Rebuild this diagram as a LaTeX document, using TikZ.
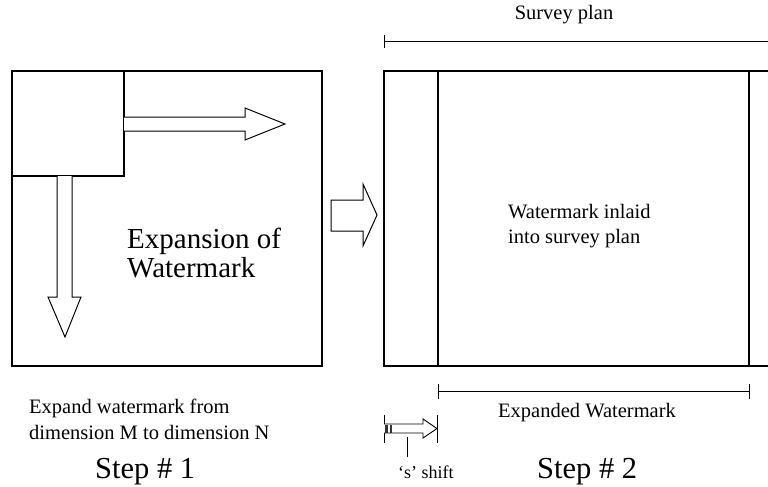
\documentclass[tikz,border=0pt]{standalone}
\usepackage{fontspec}
\setmainfont{Liberation Serif}
\usetikzlibrary{arrows.meta}
\begin{document}
\begin{tikzpicture}[x=1pt,y=-1pt]
	\tikzstyle{box} = [draw, line width=1.1pt]
	\tikzstyle{hollow} = [draw, line width=1pt, fill=white, line join=miter]
	\tikzstyle{dim} = [line width=1pt]
	\tikzstyle{big_t} = [inner sep=0pt, anchor=base west, font=\fontsize{29}{29}\selectfont]
	\tikzstyle{step_t} = [inner sep=0pt, anchor=base west, font=\fontsize{30.5}{30.5}\selectfont]
	\tikzstyle{small_t} = [inner sep=0pt, anchor=base west, font=\fontsize{20.5}{20.5}\selectfont]
	\def\boxtop{71}
	\def\boxbot{366}

	\useasboundingbox (0,0) rectangle (768,487);

	% step 1: the watermark is expanded
	\draw[box] (12,\boxtop) rectangle (322,\boxbot);
	\draw[box] (12,\boxtop) rectangle (124,176);
	\draw[hollow] (124,117) -- (245,117) -- (245,108) -- (285,124) -- (245,140) -- (245,131) -- (124,131);
	\draw[hollow] (57,176) -- (57,297) -- (48,297) -- (65,337) -- (81,297) -- (72,297) -- (72,176);

	\node[big_t] (expansion) at (127,248) {Expansion of};
	\node[big_t] (watermark) at (127,277) {Watermark};

	\node[small_t] (expand1) at (29,413) {Expand watermark from};
	\node[small_t] (expand2) at (29,439) {dimension M to dimension N};
	\node[step_t] (step1) at (95,478) {Step \# 1};

	% between the steps
	\draw[hollow] (331,200) -- (363,200) -- (363,184) -- (377,215) -- (363,246) -- (363,231) -- (331,231) -- cycle;

	% step 2: inlaid into the survey plan
	\draw[box] (768,\boxtop) -- (384,\boxtop) -- (384,\boxbot) -- (768,\boxbot);
	\foreach \name/\x in {inner_l/438, inner_r/749}
		\draw[box] (\x,\boxtop) coordinate (\name) -- (\x,\boxbot);

	\node[small_t, anchor=base] (survey) at (564,20) {Survey plan};
	\coordinate (plan_l) at (384,42);
	\coordinate (plan_r) at (768,42);
	\draw[dim, {Bar[width=13pt]}-] (plan_l) -- (plan_r);

	\node[small_t] (inlaid1) at (508,218) {Watermark inlaid};
	\node[small_t] (inlaid2) at (508,243) {into survey plan};

	\coordinate (exp_l) at (438,391);
	\coordinate (exp_r) at (750,391);
	\draw[dim, {Bar[width=15pt]}-{Bar[width=15pt]}] (exp_l) -- (exp_r);
	\node[small_t] (expanded) at (498,417) {Expanded Watermark};

	% the s shift
	\foreach \name/\x in {shift_l/384, shift_r/437}
		\draw[dim] (\x,415) coordinate (\name) -- (\x,443);
	\draw[hollow, line width=0.9pt] (384,424) -- (423,424) -- (423,419) -- (437,428.5) -- (423,438) -- (423,433) -- (384,433);
	\fill[black!80] (385,424.5) rectangle (388,432.5);
	\fill[black!80] (390,424.5) rectangle (392,432.5);
	\draw[dim] (407,437) -- (407,457);
	\node[inner sep=0pt, anchor=base west, font=\fontsize{18}{18}\selectfont] (shift) at (398,478) {`s' shift};
	\node[step_t] (step2) at (537,478) {Step \# 2};
\end{tikzpicture}
\end{document}
